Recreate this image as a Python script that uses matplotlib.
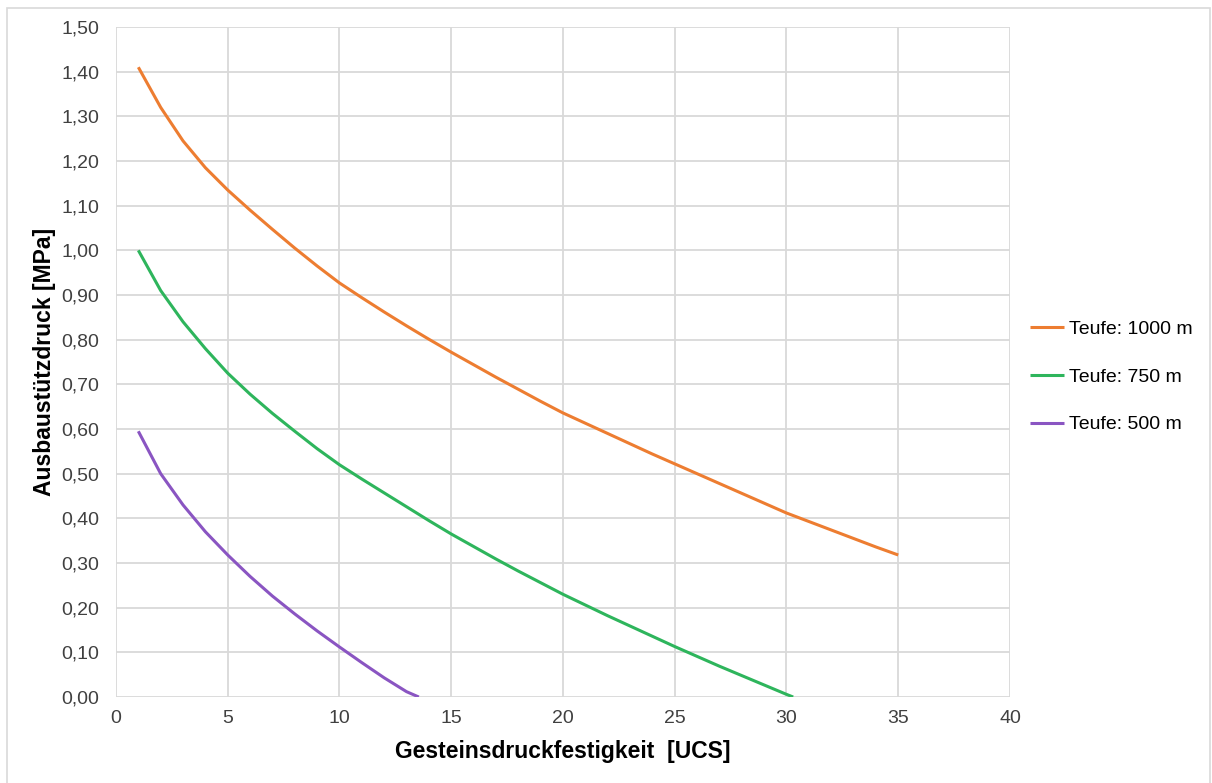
import matplotlib
matplotlib.use("Agg")
import matplotlib.pyplot as plt
from matplotlib.patches import Rectangle
from matplotlib.ticker import FuncFormatter

plt.rcParams["font.family"] = ["Liberation Sans", "DejaVu Sans"]

# Gesteinsdruckfestigkeit (UCS) vs. Ausbaustützdruck (MPa)
ucs_1000 = [1, 2, 3, 4, 5, 6, 7, 8, 9, 10, 11, 12, 13, 14, 15, 16, 17, 18,
            19, 20, 21, 22, 23, 24, 25, 26, 27, 28, 29, 30, 31, 32, 33, 34, 35]
p_1000 = [1.41, 1.32, 1.245, 1.185, 1.135, 1.09, 1.047, 1.005, 0.965, 0.927,
          0.894, 0.862, 0.831, 0.801, 0.772, 0.744, 0.716, 0.689, 0.662, 0.636,
          0.613, 0.59, 0.567, 0.544, 0.522, 0.5, 0.478, 0.456, 0.434, 0.412,
          0.393, 0.374, 0.355, 0.336, 0.318]

ucs_750 = [1, 2, 3, 4, 5, 6, 7, 8, 9, 10, 11, 12, 13, 14, 15, 16, 17, 18,
           19, 20, 21, 22, 23, 24, 25, 26, 27, 28, 29, 30, 30.3]
p_750 = [1.0, 0.91, 0.84, 0.78, 0.725, 0.678, 0.635, 0.595, 0.556, 0.52,
         0.488, 0.457, 0.426, 0.395, 0.365, 0.337, 0.309, 0.282, 0.256, 0.23,
         0.206, 0.182, 0.159, 0.136, 0.113, 0.091, 0.069, 0.048, 0.027, 0.006, 0.0]

ucs_500 = [1, 2, 3, 4, 5, 6, 7, 8, 9, 10, 11, 12, 13, 13.55]
p_500 = [0.595, 0.5, 0.43, 0.37, 0.318, 0.27, 0.226, 0.186, 0.148, 0.112,
         0.077, 0.043, 0.012, 0.0]

labels = ["Teufe: 1000 m", "Teufe: 750 m", "Teufe: 500 m"]
colors = ["#ED7D31", "#2EB55C", "#8A55C2"]

fig = plt.figure(figsize=(12.12, 7.83), dpi=100)
ax = fig.add_axes([0.0957, 0.1098, 0.7376, 0.8557])

for x, y, lab, c in zip([ucs_1000, ucs_750, ucs_500], [p_1000, p_750, p_500], labels, colors):
    ax.plot(x, y, color=c, lw=2.2, label=lab, solid_capstyle="butt")

ax.set_xlim(0, 40)
ax.set_ylim(0, 1.5)
ax.set_xticks(range(0, 41, 5))
ax.set_yticks([i / 10 for i in range(16)])
ax.yaxis.set_major_formatter(FuncFormatter(lambda v, p: f"{v:.2f}".replace(".", ",")))
ax.grid(True, color="#d9d9d9", lw=1.3)
ax.set_axisbelow(True)
for s in ax.spines.values():
    s.set_visible(False)
ax.tick_params(length=0, labelsize=14, colors="#404040")
ax.tick_params(axis="y", pad=12)
ax.tick_params(axis="x", pad=9)

ax.set_xlabel("Gesteinsdruckfestigkeit  [UCS]", fontsize=16.5, fontweight="bold", labelpad=10)
ax.set_ylabel("Ausbaustützdruck [MPa]", fontsize=16.5, fontweight="bold", labelpad=4)

ax.legend(loc="center left", bbox_to_anchor=(1.0, 0.478), frameon=False, fontsize=14,
          handlelength=1.75, handletextpad=0.25, labelspacing=1.55, borderaxespad=0.65)

fig.patches.append(Rectangle((7 / 1212, -0.01), 1203 / 1212, 1 - 8 / 783 + 0.01,
                             transform=fig.transFigure, fill=False,
                             edgecolor="#d9d9d9", lw=1.2))

fig.savefig("out.png", dpi=100)
